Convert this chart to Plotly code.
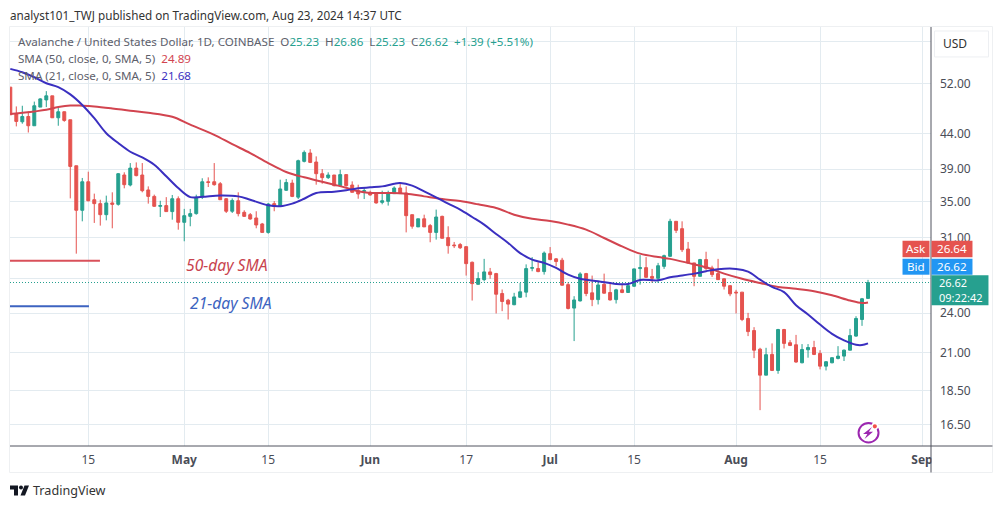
import math

import pandas as pd
import plotly.graph_objects as go

# daily candles, 2 Apr - 23 Aug 2024
START_DATE = "2024-04-02"
OPENS = [51.44, 46.97, 45.77, 46.59, 45.16, 48.09, 49.27, 49.95, 46.39, 47.34, 46.08, 39.46, 33.96, 37.39, 35.19, 34.73,
         33.46, 34.81, 34.65, 38.25, 36.98, 39.15, 38.25, 36.37, 35.59, 34.42, 34.5, 33.81, 35.31, 32.61, 33.27, 33.58,
         35.5, 37.39, 37.39, 37.14, 35.31, 33.85, 35.07, 33.73, 33.46, 33.09, 32.43, 31.52, 34.73, 34.42, 36.33, 37.22,
         35.5, 40.05, 41.19, 39.96, 38.42, 37.91, 38.25, 36.9, 38.3, 36.98, 36.28, 36.2, 36.08, 35.92, 34.88, 35.0,
         35.92, 36.61, 36.0, 33.46, 32.11, 33.0, 32.25, 31.52, 33.27, 30.97, 30.21, 30.25, 30.04, 28.5, 26.46, 26.88,
         27.59, 27.43, 25.65, 25.08, 24.7, 25.33, 25.77, 27.93, 27.9, 27.62, 29.34, 28.83, 28.7, 26.43, 24.42, 25.02,
         27.43, 25.71, 25.13, 26.46, 25.74, 25.13, 25.97, 25.74, 26.29, 27.9, 27.99, 27.17, 27.0, 28.11, 29.08, 32.72,
         31.92, 29.8, 28.44, 27.18, 28.76, 27.96, 27.43, 26.96, 26.34, 25.77, 25.77, 23.58, 22.64, 21.26, 19.48, 20.89,
         19.79, 22.72, 21.73, 21.58, 20.31, 21.22, 21.38, 20.96, 20.08, 20.31, 20.61, 20.77, 21.19, 22.22, 23.5, 25.23]
HIGHS = [51.44, 48.2, 48.31, 47.39, 48.99, 49.55, 50.75, 49.95, 47.93, 47.39, 46.08, 39.46, 37.87, 38.68, 35.92, 35.19,
         35.68, 36.08, 38.51, 38.6, 39.82, 39.91, 39.82, 36.81, 35.8, 35.07, 35.5, 35.76, 35.59, 34.12, 34.12, 35.8,
         37.83, 37.95, 39.82, 37.35, 35.39, 35.35, 36.08, 33.96, 33.65, 33.85, 32.54, 34.81, 35.03, 37.65, 37.74, 37.65,
         40.28, 41.55, 41.73, 40.73, 39.02, 38.6, 38.25, 38.94, 38.3, 37.44, 37.02, 36.73, 36.28, 36.0, 36.28, 36.28,
         36.81, 37.22, 36.81, 33.46, 33.0, 33.46, 32.43, 34.04, 33.35, 32.18, 30.52, 30.42, 30.07, 28.57, 27.56, 28.83,
         27.96, 27.5, 26.0, 25.19, 25.71, 26.58, 28.3, 29.0, 28.5, 29.56, 30.0, 28.9, 28.93, 26.64, 25.42, 27.56,
         27.5, 27.25, 26.7, 27.43, 26.58, 26.06, 26.52, 26.52, 27.9, 29.2, 29.0, 27.87, 28.44, 29.24, 33.0, 32.72,
         32.72, 30.52, 28.44, 28.83, 29.53, 28.17, 28.83, 27.0, 26.34, 25.97, 25.77, 24.03, 22.9, 21.36, 21.36, 21.68,
         22.77, 22.77, 21.92, 22.31, 21.63, 21.63, 21.87, 21.19, 20.43, 20.68, 21.48, 21.24, 22.77, 23.76, 25.27, 26.86]
LOWS = [46.86, 45.06, 45.47, 44.14, 45.16, 48.09, 48.09, 46.39, 45.16, 45.77, 35.35, 29.34, 32.72, 35.0, 32.54, 32.25,
        32.83, 31.96, 34.5, 36.57, 36.81, 38.08, 36.08, 34.73, 34.35, 33.2, 33.81, 32.9, 31.81, 30.59, 32.18, 33.46,
        35.27, 36.73, 36.9, 35.19, 33.65, 33.65, 33.27, 33.2, 32.9, 31.96, 31.52, 31.38, 33.85, 34.35, 36.24, 35.5,
        35.27, 39.91, 39.82, 37.02, 37.14, 37.74, 36.81, 36.9, 36.81, 36.08, 35.31, 35.27, 35.68, 34.73, 34.65, 34.5,
        35.92, 35.92, 31.52, 31.92, 32.11, 32.11, 30.49, 30.76, 30.9, 29.34, 29.9, 29.8, 27.25, 25.05, 26.43, 26.73,
        26.96, 23.98, 24.17, 23.5, 24.66, 25.27, 25.33, 27.65, 27.56, 27.34, 28.7, 28.11, 26.34, 24.31, 21.85, 24.97,
        25.42, 24.58, 24.72, 25.65, 25.05, 24.8, 25.68, 25.71, 26.23, 26.43, 27.03, 26.58, 26.58, 27.87, 29.0, 31.45,
        29.5, 28.37, 26.29, 27.18, 27.78, 27.12, 26.88, 26.0, 25.42, 23.98, 23.37, 22.22, 20.63, 17.31, 19.48, 19.75,
        19.57, 21.31, 21.48, 20.31, 20.27, 20.66, 20.84, 19.86, 19.79, 20.27, 20.54, 20.43, 21.19, 22.17, 23.0, 25.23]
CLOSES = [46.86, 45.82, 46.59, 45.16, 48.31, 49.44, 49.95, 46.39, 47.34, 45.98, 39.37, 33.96, 37.39, 35.07, 34.73, 33.46,
          34.81, 34.65, 38.42, 37.02, 39.15, 38.17, 36.28, 35.59, 34.42, 34.5, 33.81, 35.31, 32.61, 33.35, 33.58, 35.5,
          37.39, 37.3, 37.02, 35.19, 33.85, 35.11, 33.58, 33.27, 32.98, 32.32, 31.52, 34.69, 34.42, 36.49, 37.3, 35.59,
          40.14, 41.28, 39.91, 38.42, 37.91, 38.25, 36.9, 38.3, 36.9, 36.08, 35.88, 36.28, 35.76, 34.81, 35.07, 36.0,
          36.61, 35.92, 33.35, 32.18, 33.0, 32.11, 31.52, 33.2, 30.9, 30.14, 30.14, 29.93, 28.37, 26.52, 26.98, 27.59,
          27.34, 25.59, 24.97, 24.75, 25.36, 25.8, 27.9, 27.99, 27.62, 29.4, 28.76, 28.57, 26.38, 24.39, 25.1, 27.4,
          25.65, 25.13, 26.4, 25.68, 25.1, 25.97, 25.74, 26.34, 27.87, 27.99, 27.09, 27.0, 28.17, 29.14, 32.72, 31.74,
          29.73, 28.44, 27.18, 28.76, 27.9, 27.34, 26.88, 26.29, 25.62, 25.71, 23.5, 22.56, 21.19, 19.48, 20.87, 19.79,
          22.72, 21.68, 21.53, 20.36, 21.24, 21.38, 20.89, 20.08, 20.38, 20.66, 20.77, 21.19, 22.26, 23.58, 25.2, 26.62]

# moving averages, read at these bar numbers
SMA50_BARS = [0, 4, 6, 8, 10, 12, 14, 17, 20, 23, 27, 30, 34, 37, 40, 43, 46, 49, 52, 54, 56, 58, 60, 63, 66, 69, 72, 75,
              78, 81, 84, 87, 90, 93, 96, 99, 102, 105, 108, 110, 113, 116, 119, 122, 125, 128, 131, 134, 137, 140, 142, 143]
SMA50_VALUES = [46.97, 47.39, 47.65, 48.09, 48.35, 48.31, 48.2, 47.88, 47.5, 47.18, 46.54, 45.32, 43.8, 42.44, 41.19, 39.82,
                38.64, 37.95, 37.39, 37.02, 36.65, 36.2, 36.0, 36.0, 35.92, 35.59, 35.27, 35.03, 34.65, 34.23, 33.46, 33.0,
                32.76, 32.36, 31.81, 30.93, 30.07, 29.34, 29.0, 28.83, 28.44, 28.02, 27.43, 26.96, 26.58, 26.23, 26.06,
                25.85, 25.5, 25.05, 24.84, 24.89]
SMA21_BARS = [0, 2, 4, 6, 8, 10, 12, 14, 16, 18, 20, 22, 24, 26, 28, 30, 32, 35, 38, 40, 43, 45, 47, 49, 51, 54, 56, 58, 60,
              62, 64, 65, 67, 69, 71, 73, 75, 77, 79, 81, 83, 85, 87, 89, 91, 93, 95, 98, 101, 103, 105, 108, 110, 112, 114,
              116, 118, 121, 123, 125, 127, 129, 131, 133, 135, 137, 139, 141, 142, 143]
SMA21_VALUES = [54.7, 54.08, 53.18, 52.12, 51.44, 50.2, 48.44, 46.33, 44.04, 42.6, 41.37, 40.6, 39.6, 38.08, 36.6, 35.5, 35.54,
                35.7, 35.59, 35.19, 34.54, 34.42, 34.73, 35.31, 36.0, 36.16, 36.33, 36.57, 36.69, 36.81, 37.14, 37.22, 36.9,
                36.2, 35.47, 34.73, 34.04, 33.2, 32.36, 31.35, 30.42, 29.4, 28.76, 28.44, 27.96, 27.34, 26.96, 26.73, 26.49,
                26.49, 26.85, 26.82, 27.09, 27.25, 27.43, 27.65, 27.84, 27.87, 27.62, 26.88, 26.23, 25.77, 24.66, 23.9, 23.1,
                22.39, 21.9, 21.58, 21.56, 21.68]

LAST_PRICE = 26.62
X_RANGE = ["2024-04-01 22:48", "2024-09-02 12:00"]
Y_RANGE = [15.34, 63.0]
X_TICKS = ["2024-04-15", "2024-05-01", "2024-05-15", "2024-06-01", "2024-06-17", "2024-07-01", "2024-07-15", "2024-08-01",
           "2024-08-15", "2024-09-01"]
X_LABELS = ["15", "<b>May</b>", "15", "<b>Jun</b>", "17", "<b>Jul</b>", "15", "<b>Aug</b>", "15", "<b>Sep</b>"]
Y_TICKS = [60, 52, 44, 39, 35, 31, 27, 24, 21, 18.5, 16.5]
Y_LABELS = ["", "52.00", "44.00", "39.00", "35.00", "31.00", "", "24.00", "21.00", "18.50", "16.50"]

FONT = "Noto Sans"
GREEN = "#26A08F"
RED = "#E5534F"
GRID = "#E3EBF0"
GRAY = "#5D606B"
AXIS = "#50535E"
LEFT, RIGHT, TOP, BOTTOM = 10, 931.5, 27, 446.5


def px(x):
    return (x - LEFT) / (RIGHT - LEFT)


def py(y):
    return (BOTTOM - y) / (BOTTOM - TOP)


def box(x0, y0, x1, y1, color, line=None, kind="rect"):
    return dict(type=kind, xref="paper", yref="paper", x0=px(x0), x1=px(x1), y0=py(y0), y1=py(y1), fillcolor=color,
                line=dict(color=line or color, width=1 if line else 0), layer="above")


def seg(x0, y0, x1, y1, color, width=1):
    return dict(type="line", xref="paper", yref="paper", x0=px(x0), x1=px(x1), y0=py(y0), y1=py(y1),
                line=dict(color=color, width=width), layer="above")


def poly(points, color):
    path = "M" + " L".join(f"{px(x):.5f},{py(y):.5f}" for x, y in points) + " Z"
    return dict(type="path", xref="paper", yref="paper", path=path, fillcolor=color, line=dict(width=0), layer="above")


def label(x, y, text, size=11.6, color=GRAY, anchor="left", italic=False):
    return dict(xref="paper", yref="paper", x=px(x - 1 if anchor == "left" else x), y=py(y), text=text, showarrow=False,
                xanchor=anchor, yanchor="middle", borderpad=0,
                font=dict(family=FONT, size=size, color=color, style="italic" if italic else "normal"))


dates = pd.date_range(START_DATE, periods=len(CLOSES), freq="D")

fig = go.Figure()
fig.add_trace(go.Scatter(x=X_RANGE, y=[LAST_PRICE, LAST_PRICE], mode="lines", hoverinfo="skip",
                         line=dict(color=GREEN, width=1, dash="1px,2px")))
fig.add_trace(go.Candlestick(x=dates, open=OPENS, high=HIGHS, low=LOWS, close=CLOSES, whiskerwidth=0,
                             increasing=dict(line=dict(color=GREEN, width=1), fillcolor=GREEN),
                             decreasing=dict(line=dict(color=RED, width=1), fillcolor=RED)))
fig.add_trace(go.Scatter(x=dates[SMA50_BARS], y=SMA50_VALUES, mode="lines",
                         line=dict(color="#D2444F", width=2, shape="spline")))
fig.add_trace(go.Scatter(x=dates[SMA21_BARS], y=SMA21_VALUES, mode="lines",
                         line=dict(color="#3A2FC0", width=2, shape="spline")))

shapes = [
    # outer frame of the snapshot
    box(9.5, 26.5, 993, 473, "rgba(0,0,0,0)", line="#EEF0F2"),
    box(932, 447.5, 992, 472, "white"),
    seg(LEFT, BOTTOM, 993, BOTTOM, AXIS),
    seg(RIGHT, TOP, RIGHT, 473, AXIS),
    # hand-drawn marks in the legend of the averages
    seg(10, 261, 100, 261, "#D9505A", 2),
    seg(10, 306.5, 89, 306.5, "#3D63C0", 2),
    # price labels
    box(903, 241, 930, 257.5, RED),
    box(932, 241, 973, 257.5, RED),
    box(903, 259, 930, 275, "#2196F3"),
    box(932, 259, 973, 275, "#2196F3"),
    box(932, 275.5, 989, 305.5, GREEN),
    # currency button
    box(935, 31, 989, 57, "white", line="#EDEFF2"),
    # lightning icon
    dict(type="circle", xref="paper", yref="paper", x0=px(859), x1=px(879), y0=py(423.5), y1=py(443),
         line=dict(color="#9C27B0", width=2), layer="above"),
    box(872, 423, 879, 430, "white", kind="circle"),
    box(873.2, 424.7, 877.4, 428.9, "#F2504B", kind="circle"),
    poly([(872.5, 427.5), (863.5, 434.5), (867.8, 434.5), (865, 439.5), (873.5, 432.3), (869.3, 432.3)], "#9C27B0"),
    # TradingView logo
    poly([(10, 486), (18, 486), (18, 496), (14, 496), (14, 490), (10, 490)], "#131722"),
    box(19, 486, 23, 490, "#131722", kind="circle"),
    poly([(24.5, 486), (29, 486), (25, 496), (20.5, 496)], "#131722"),
]

t = lambda s: f'<span style="color:{GREEN}">{s}</span>'
gap = "\u00a0\u00a0"
annotations = [
    label(10, 15, "analyst101_TWJ published on TradingView.com, Aug 23, 2024 14:37 UTC", 11.7, "#333333"),
    label(18, 41.5, f"Avalanche / United States Dollar, 1D, COINBASE{gap}O{t('25.23')}{gap}H{t('26.86')}{gap}L{t('25.23')}{gap}"
                    f"C{t('26.62')}{gap}{t('+1.39 (+5.51%)')}"),
    label(18, 58.5, 'SMA (50, close, 0, SMA, 5)  <span style="color:#D2444F">24.89</span>'),
    label(18, 75.5, 'SMA (21, close, 0, SMA, 5)  <span style="color:#3A2FC0">21.68</span>'),
    label(186, 265.5, "50-day SMA", 15.7, "#C8434F", italic=True),
    label(190, 303, "21-day SMA", 15.7, "#3D63C0", italic=True),
    label(944, 43.5, "USD", 12, "#333333"),
    label(916.5, 249, "Ask", 11.6, "white", "center"),
    label(952.5, 249, "26.64", 11.6, "white", "center"),
    label(916.5, 267, "Bid", 11.6, "white", "center"),
    label(952.5, 267, "26.62", 11.6, "white", "center"),
    label(940, 283, "26.62", 11, "white"),
    label(940, 297.5, "09:22:42", 11, "white"),
    label(33, 491, "TradingView", 12.6, "#333333"),
]

fig.update_layout(
    width=1003, height=509, margin=dict(l=LEFT, r=1003 - RIGHT, t=TOP, b=509 - BOTTOM, autoexpand=False),
    paper_bgcolor="white", plot_bgcolor="white", showlegend=False, hovermode=False,
    font=dict(family=FONT, size=12, color="#4A4D57"), shapes=shapes, annotations=annotations,
    xaxis=dict(type="date", range=X_RANGE, tickmode="array", tickvals=X_TICKS, ticktext=X_LABELS, showgrid=True,
               gridcolor=GRID, gridwidth=1, zeroline=False, showline=False, ticks="", ticklabelstandoff=5,
               rangeslider=dict(visible=False)),
    yaxis=dict(type="log", side="right", range=[math.log10(Y_RANGE[0]), math.log10(Y_RANGE[1])],
               tickmode="array", tickvals=Y_TICKS, ticktext=Y_LABELS, showgrid=True, gridcolor=GRID, gridwidth=1,
               zeroline=False, showline=False, ticks="", ticklabelstandoff=8),
)

fig.write_html("out.html", config=dict(displayModeBar=False), post_script="document.body.style.margin='0';")
